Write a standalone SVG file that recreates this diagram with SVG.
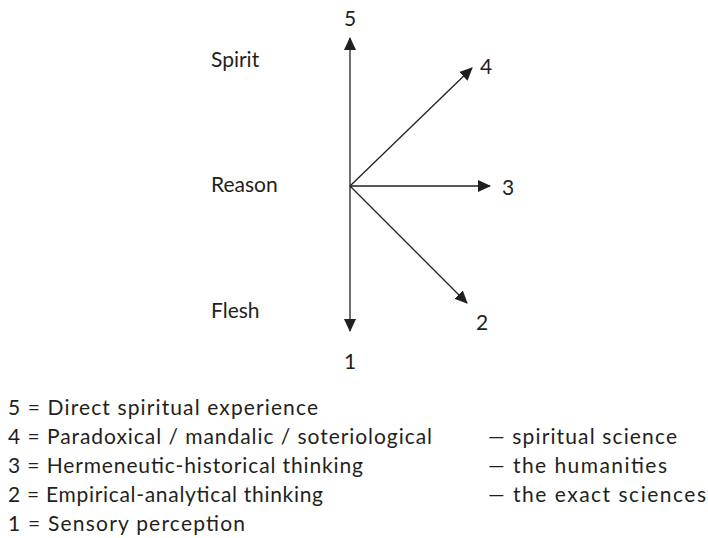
<svg xmlns="http://www.w3.org/2000/svg" width="708" height="538" viewBox="0 0 708 538">
<style>
text{font-family:Lato,"Open Sans","Liberation Sans",sans-serif;fill:#231f20}
.num{font-size:21px}
.lbl{font-size:21px}
.leg{font-size:21px}
.ax{stroke:#231f20;stroke-width:1.3;fill:none;marker-end:url(#ah)}
</style>
<defs>
<marker id="ah" markerUnits="userSpaceOnUse" markerWidth="13" markerHeight="13" viewBox="0 0 13 13" refX="12" refY="6.5" orient="auto">
<path d="M0,0.5 L13,6.5 L0,12.5 z" fill="#231f20"/>
</marker>
</defs>
<rect width="708" height="538" fill="#fff"/>
<g id="connectors">
<line class="ax" x1="350" y1="186" x2="350" y2="38"/>
<line class="ax" x1="350" y1="186" x2="350" y2="331"/>
<line class="ax" x1="350" y1="186" x2="490" y2="186"/>
<line class="ax" x1="350" y1="186" x2="472" y2="68"/>
<line class="ax" x1="350" y1="186" x2="467" y2="303"/>
</g>
<g id="n5"><text class="num" x="350" y="26" text-anchor="middle">5</text></g>
<g id="n4"><text class="num" x="480" y="74">4</text></g>
<g id="n3"><text class="num" x="502" y="195">3</text></g>
<g id="n2"><text class="num" x="476" y="330">2</text></g>
<g id="n1"><text class="num" x="350" y="369" text-anchor="middle">1</text></g>
<g id="spirit"><text class="lbl" x="211" y="67">Spirit</text></g>
<g id="reason"><text class="lbl" x="211" y="192">Reason</text></g>
<g id="flesh"><text class="lbl" x="211" y="318">Flesh</text></g>
<g id="legend">
<text class="leg" x="8" y="415" textLength="310" lengthAdjust="spacing">5 = Direct spiritual experience</text>
<text class="leg" x="8" y="444" textLength="424" lengthAdjust="spacing">4 = Paradoxical / mandalic / soteriological</text>
<text class="leg" x="8" y="473" textLength="355" lengthAdjust="spacing">3 = Hermeneutic-historical thinking</text>
<text class="leg" x="8" y="502" textLength="315" lengthAdjust="spacing">2 = Empirical-analytical thinking</text>
<text class="leg" x="8" y="531" textLength="237" lengthAdjust="spacing">1 = Sensory perception</text>
<text class="leg" x="488" y="444" textLength="189" lengthAdjust="spacing">— spiritual science</text>
<text class="leg" x="488" y="473" textLength="179" lengthAdjust="spacing">— the humanities</text>
<text class="leg" x="488" y="502" textLength="218" lengthAdjust="spacing">— the exact sciences</text>
</g>
</svg>
